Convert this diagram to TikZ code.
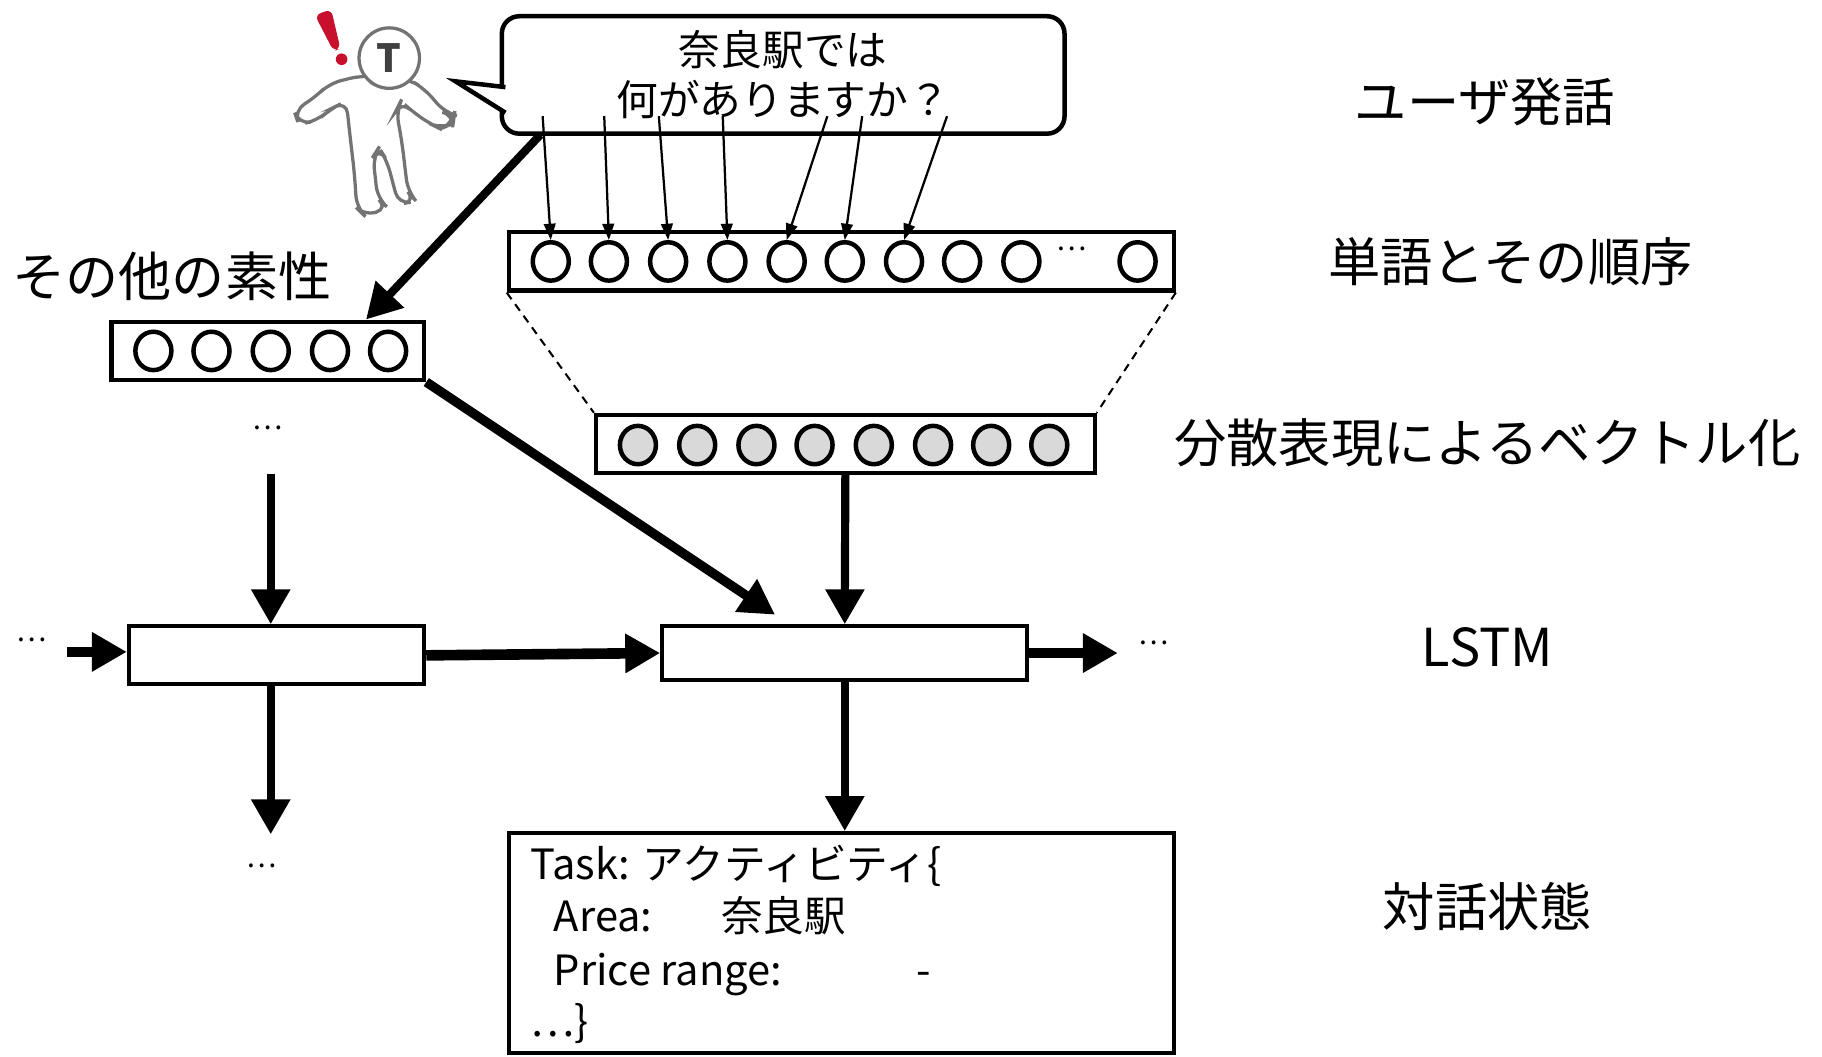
\documentclass[tikz,border=0pt]{standalone}
\usepackage{fontspec}
\setmainfont{Noto Sans CJK JP}
\usetikzlibrary{arrows.meta,shapes.geometric}
\newcommand{\lblsize}{\fontsize{12.8pt}{15pt}\selectfont}
\newcommand{\txtsize}{\fontsize{10.2pt}{12.2pt}\selectfont}
\definecolor{alertred}{HTML}{C8102E}

\begin{document}
\begin{tikzpicture}[x=0.01cm, y=-0.01cm]
  \tikzset{
    vecbox/.style={draw, line width=1pt, minimum height=0.5cm, inner sep=0pt},
    neuron/.style={draw, ellipse, line width=1.1pt, fill=white,
      minimum width=0.31cm, minimum height=0.33cm, inner sep=0pt},
    embneuron/.style={neuron, fill=black!15},
    cell/.style={draw, line width=1pt, fill=white, inner sep=0pt},
    word/.style={-{Triangle[length=1.4mm,width=1mm]}, line width=0.55pt},
    flow/.style={-{Triangle[length=3mm,width=3.2mm]}, line width=2pt},
    rowlabel/.style={font=\lblsize},
    ellip/.style={font=\fontsize{7pt}{8pt}\selectfont, inner sep=0pt},
    statetext/.style={anchor=base west, inner sep=0pt, font=\txtsize},
  }
  \useasboundingbox (0,0) rectangle (1568,909);

  % speaker
  \draw[black!55, line width=0.8pt, fill=white, rounded corners=3]
    (311,65) -- (283,72) -- (271,84) -- (253,95) -- (257,107) -- (273,104)
    -- (284,94) -- (298,87) -- (301,115) -- (305,149) -- (307,179)
    -- (314,186) -- (334,179) -- (325,171) -- (321,135) -- (326,127)
    -- (333,138) -- (343,176) -- (358,173) -- (351,165) -- (346,123)
    -- (341,95) -- (345,87) -- (356,97) -- (371,107) -- (379,111)
    -- (390,106) -- (391,99) -- (383,97) -- (365,76) -- (351,68) -- cycle;
  \fill[black!15] (331,71) ellipse (14 and 4);
  \node[circle, draw=black!55, line width=0.8pt, fill=white, minimum size=0.52cm,
    inner sep=0pt, text=black!75, font=\fontsize{9.5pt}{10pt}\selectfont\bfseries]
    (head) at (335,50) {T};
  \fill[alertred, rounded corners=1.5] (271,13) -- (285,8) -- (293,42) -- (287,44) -- cycle;
  \fill[alertred] (294,51) circle (5);

  % utterance
  \node[draw, line width=1.1pt, rounded corners=0.15cm, minimum width=4.84cm,
    minimum height=1.01cm, align=center, font=\txtsize] (utt) at (674,64.5)
    {奈良駅では\\何がありますか？};
  \draw[line width=1.1pt, fill=white] (435,75) -- (392,70) -- (435,97);
  \node[rowlabel] (lblutt) at (1278,88) {ユーザ発話};

  % one-hot words
  \node[vecbox, minimum width=5.72cm] (words) at (724,225) {};
  \foreach \x [count=\i] in {474,524,575,626,677,727,778,828,879}
    \node[neuron] (w\i) at (\x,225) {};
  \node[ellip] (wdots) at (922,214) {…};
  \node[neuron] (wN) at (979,225) {};
  \foreach \s [count=\i] in {467,520,567,622,712,742,815} {
    \coordinate (s\i) at (\s,100);
    \draw[word] (s\i) -- (w\i.north);
  }
  \node[rowlabel] (lblwords) at (1300,225) {単語とその順序};

  % embedding
  \node[vecbox, minimum width=4.29cm] (emb) at (727.5,382) {};
  \foreach \x [count=\i] in {549,600,651,701,752,803,853,903}
    \node[embneuron] (e\i) at (\x,383) {};
  \draw[dashed, line width=0.5pt, dash pattern=on 2pt off 1.5pt]
    (words.south west) -- (emb.north west)
    (words.south east) -- (emb.north east);
  \node[rowlabel] (lblemb) at (1280,381) {分散表現によるベクトル化};

  % other features
  \node[rowlabel, font=\fontsize{13pt}{15pt}\selectfont] (lblfeat) at (148,238) {その他の素性};
  \node[vecbox, minimum width=2.69cm] (feat) at (230.5,302) {};
  \foreach \x [count=\i] in {132,182,233,284,334}
    \node[neuron] (f\i) at (\x,302) {};
  \coordinate (uttfoot) at (465,116);
  \coordinate (feattop) at (315,275);
  \draw[flow] (uttfoot) -- (feattop);
  \node[ellip] (fdots) at (230,368) {…};

  % LSTM
  \node[cell, minimum width=2.54cm, minimum height=0.5cm] (lstm1) at (238,564) {};
  \node[cell, minimum width=3.14cm, minimum height=0.46cm] (lstm2) at (727,562) {};
  \node[rowlabel] (lbllstm) at (1280,557) {LSTM};
  \coordinate (ftop) at (233,408);
  \draw[flow] (ftop) -- (ftop |- lstm1.north);
  \coordinate (lstmin) at (667,529);
  \draw[flow, line width=2.3pt] (feat.south east) -- (lstmin);
  \draw[flow] (emb.south) -- (lstm2.north);
  \node[ellip] (ldots) at (27,551) {…};
  \coordinate (lin) at (58,561);
  \draw[flow, line width=2.6pt] (lin) -- (lin -| lstm1.west);
  \draw[flow, line width=2.6pt] (lstm1.east) -- (lstm2.west);
  \coordinate (lout) at (962,562);
  \draw[flow, line width=2.6pt] (lstm2.east) -- (lout);
  \node[ellip] (rdots) at (993,553) {…};
  \coordinate (h1) at (233,718);
  \draw[flow] (lstm1.south -| ftop) -- (h1);
  \node[ellip] (hdots) at (225,745) {…};

  % dialogue state
  \node[cell, minimum width=5.72cm, minimum height=1.89cm] (state) at (724,811.5) {};
  \draw[flow] (lstm2.south) -- (lstm2.south |- state.north);
  \node[statetext] (task) at (456,757) {Task: アクティビティ\{};
  \node[statetext] (area) at (476,802) {Area:};
  \node[statetext] (areav) at (620,802) {奈良駅};
  \node[statetext] (price) at (476,848) {Price range:};
  \node[statetext] (pricev) at (788,848) {-};
  \node[statetext] (more) at (456,892) {…\}};
  \node[rowlabel] (lblstate) at (1280,780) {対話状態};
\end{tikzpicture}
\end{document}
